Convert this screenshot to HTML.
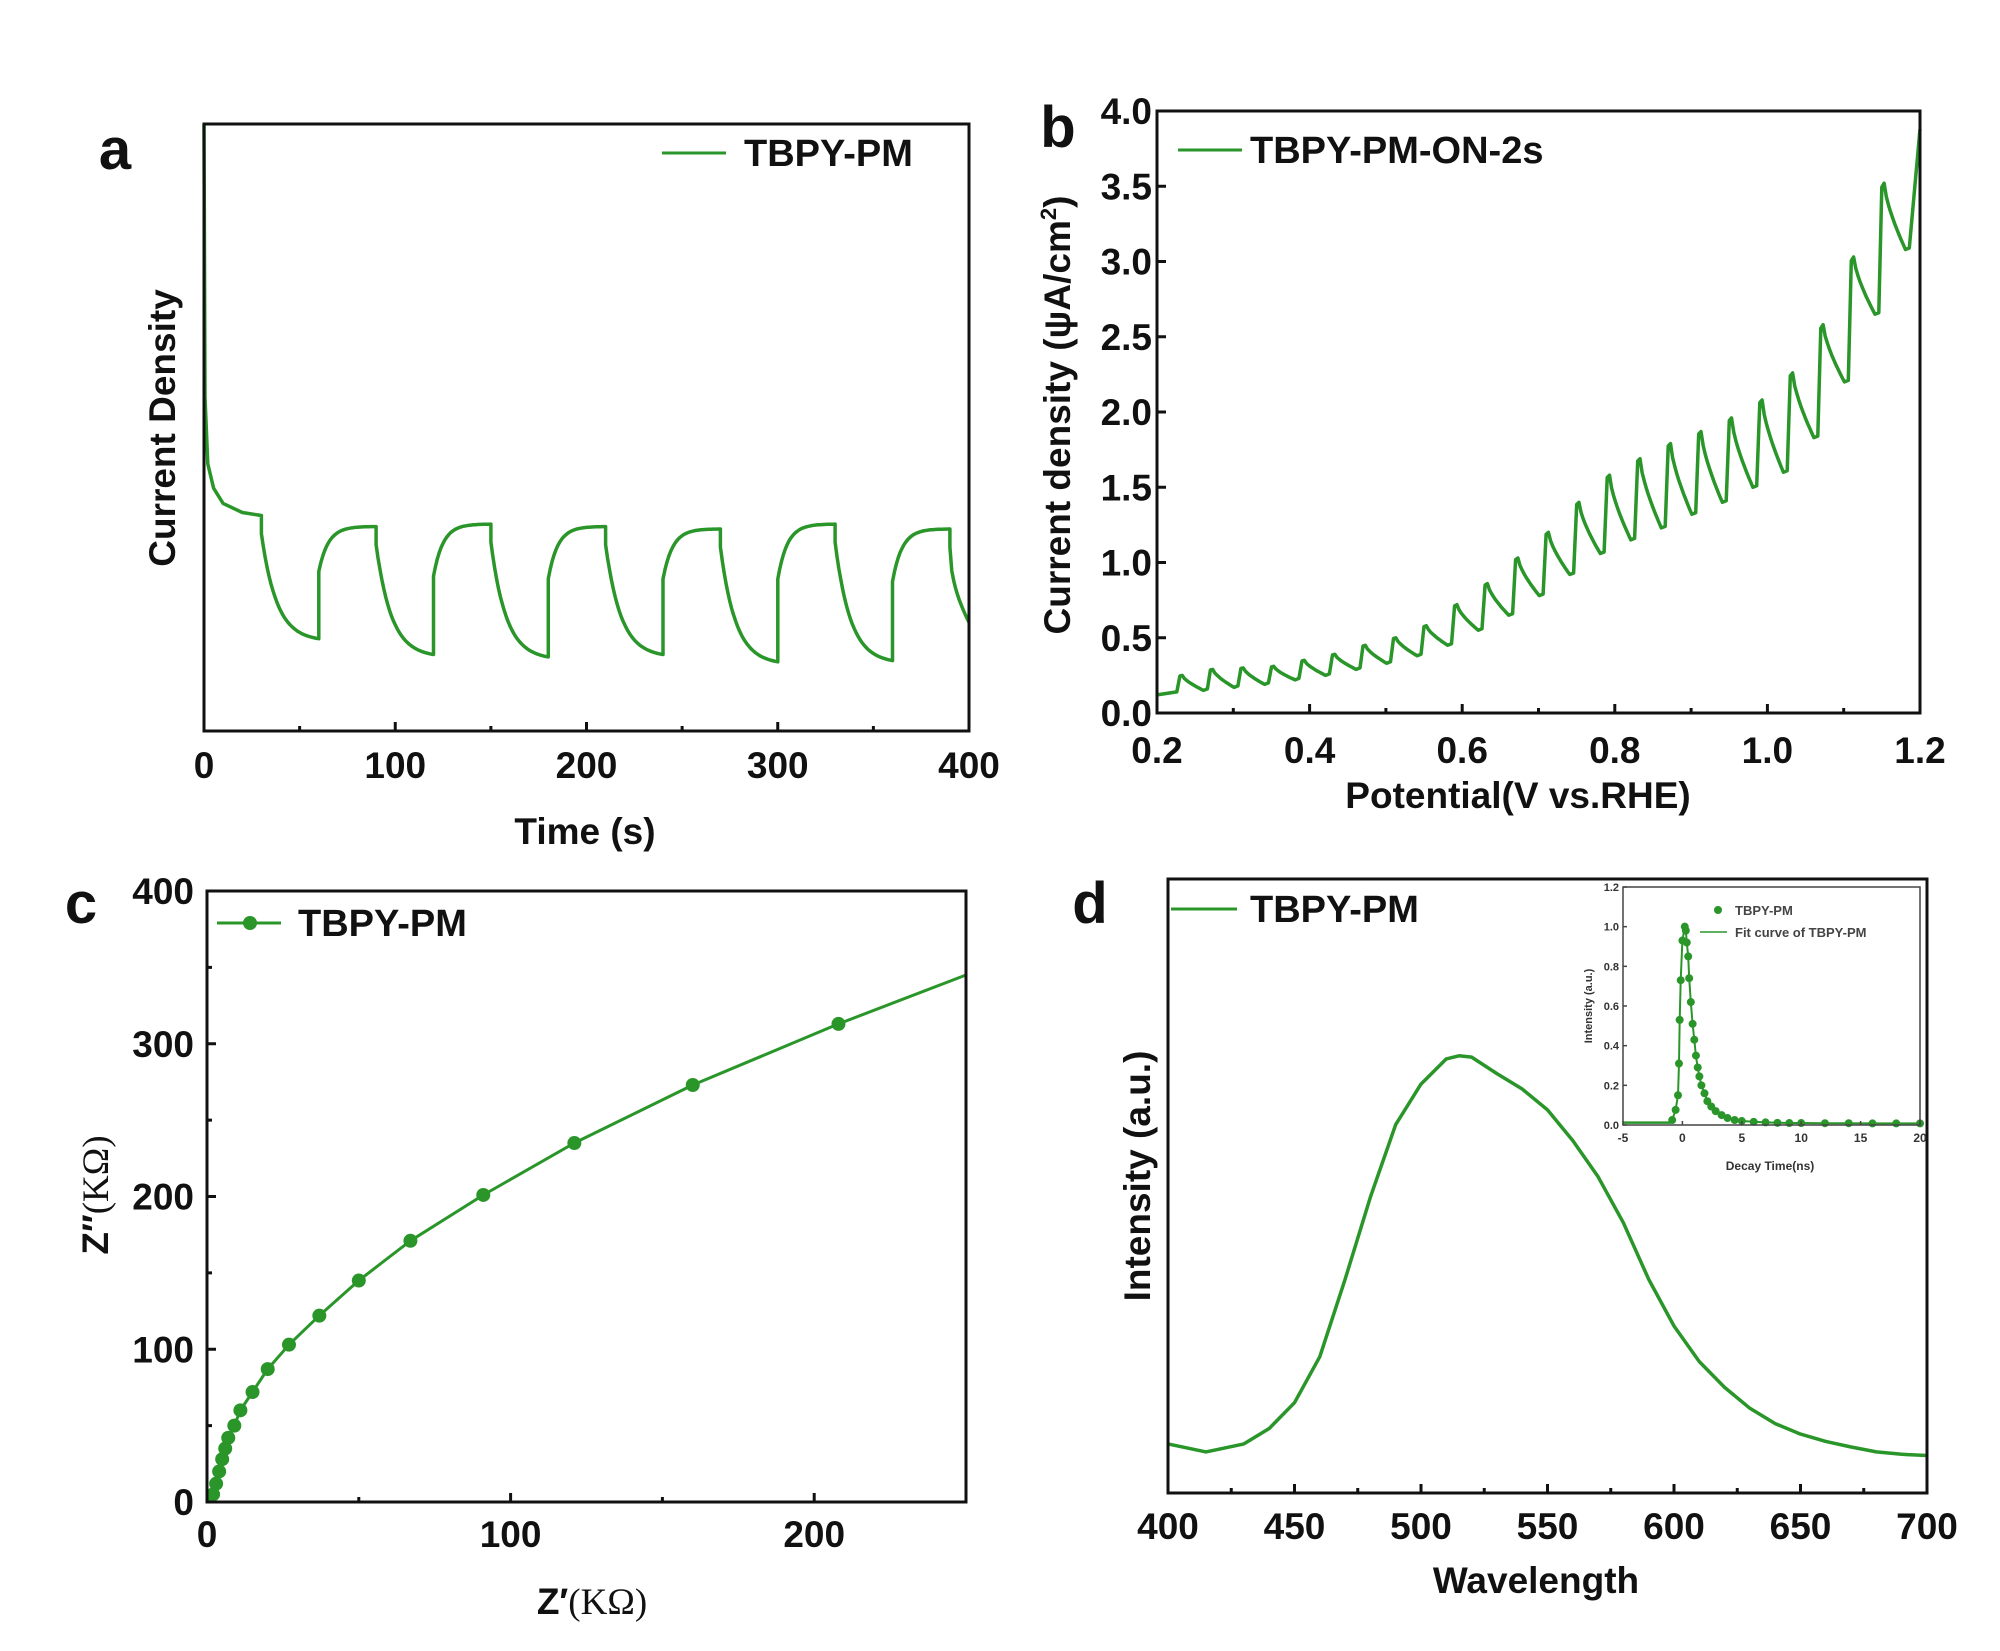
<!DOCTYPE html>
<html><head><meta charset="utf-8"><style>
html,body{margin:0;padding:0;background:#fff;}
svg{display:block;font-family:"Liberation Sans",sans-serif;}
</style></head><body>
<svg id="fig" width="2000" height="1651" viewBox="0 0 2000 1651" xmlns="http://www.w3.org/2000/svg"></svg>
<script>
// ---------- Panel a data ----------
const aInitT = [0, 0.5, 2, 5, 10, 20, 30];
const aInitV = [1.0, 0.55, 0.44, 0.40, 0.375, 0.36, 0.355];
const aOffT = [30, 90, 150, 210, 270, 330, 390];
const aTrough = [0.152, 0.126, 0.122, 0.126, 0.114, 0.116];
const aPeak = [0.337, 0.341, 0.337, 0.333, 0.341, 0.333];
const aEndV = 0.179;
const aXTicks = [0, 100, 200, 300, 400];
// ---------- Panel b data ----------
const bRiseX = [0.226,0.266,0.306,0.346,0.386,0.426,0.466,0.506,0.546,0.586,0.626,0.666,0.706,0.746,0.786,0.826,0.866,0.906,0.946,0.986,1.026,1.066,1.106,1.146,1.186];
const bPeak = [0.25,0.29,0.30,0.31,0.35,0.39,0.45,0.50,0.58,0.72,0.86,1.03,1.20,1.40,1.58,1.69,1.79,1.87,1.96,2.08,2.26,2.58,3.03,3.52,3.88];
const bTrough = [0.12,0.15,0.17,0.19,0.22,0.25,0.29,0.33,0.38,0.45,0.55,0.65,0.78,0.92,1.06,1.15,1.23,1.32,1.40,1.50,1.60,1.83,2.20,2.65,3.08];
const bXTicks = ["0.2","0.4","0.6","0.8","1.0","1.2"];
const bYTicks = ["0.0","0.5","1.0","1.5","2.0","2.5","3.0","3.5","4.0"];
// ---------- Panel c data ----------
const cX = [2,3,4,5,6,7,9,11,15,20,27,37,50,67,91,121,160,208];
const cY = [5,12,20,28,35,42,50,60,72,87,103,122,145,171,201,235,273,313];
const cEndX = 250, cEndY = 345;
const cXTicks = [0, 100, 200];
const cYTicks = [0, 100, 200, 300, 400];
// ---------- Panel d data ----------
const dWave = [400,415,430,440,450,460,470,480,490,500,510,515,520,530,540,550,560,570,580,590,600,610,620,630,640,650,660,670,680,690,700];
const dInt = [0.08,0.067,0.08,0.105,0.147,0.222,0.348,0.482,0.60,0.666,0.707,0.712,0.71,0.683,0.658,0.624,0.574,0.515,0.44,0.348,0.272,0.214,0.172,0.138,0.113,0.096,0.084,0.075,0.067,0.063,0.061];
const dXTicks = [400,450,500,550,600,650,700];
// ---------- Inset data ----------
const iT = [-0.86,-0.57,-0.37,-0.29,-0.23,-0.14,0,0.2,0.29,0.37,0.49,0.57,0.71,0.86,1.0,1.14,1.29,1.43,1.6,1.86,2.1,2.43,2.8,3.3,3.8,4.4,5,6,7,8,9,10,12,14,16,18,20];
const iV = [0.025,0.076,0.15,0.31,0.53,0.73,0.93,1.0,0.98,0.92,0.85,0.74,0.62,0.51,0.43,0.35,0.29,0.245,0.2,0.16,0.12,0.093,0.07,0.05,0.035,0.025,0.02,0.016,0.013,0.011,0.01,0.01,0.009,0.009,0.008,0.008,0.008];
const iXTicks = [-5,0,5,10,15,20];
const iYTicks = ["0.0","0.2","0.4","0.6","0.8","1.0","1.2"];

const NS = "http://www.w3.org/2000/svg";
const svg = document.getElementById('fig');
const G = "#2a962a";
function el(tag, attrs, parent, text){
  const e = document.createElementNS(NS, tag);
  for (const k in attrs) e.setAttribute(k, attrs[k]);
  if (text !== undefined) e.textContent = text;
  (parent || svg).appendChild(e);
  return e;
}
function txt(x,y,s,size,anchor,parent,extra){
  const a = Object.assign({x:x,y:y,'font-size':size,'font-weight':'bold','text-anchor':anchor||'middle',fill:'#111'}, extra||{});
  return el('text', a, parent, s);
}

// ===== Panel a =====
(function(){
  const L=204,T=124,R=969,B=731;
  const g = el('g',{});
  
  
  const X = t => L + (t/400)*(R-L);
  const Y = v => B - v*(B-T);
  const pts = [];
  for (let i=0;i<aInitT.length;i++) pts.push([X(aInitT[i]),Y(aInitV[i])]);
  let prevPeak = aInitV[aInitV.length-1];
  for (let c=0;c<aTrough.length;c++){
    const t0 = aOffT[c];
    const tr = aTrough[c];
    const p1 = prevPeak - 0.03;
    for (let k=0;k<=30;k++){
      const f = (1-Math.exp(-k/8))/(1-Math.exp(-30/8));
      pts.push([X(t0+k), Y(p1 - (p1-tr)*f)]);
    }
    const pk = aPeak[c];
    const j = tr + 0.6*(pk-tr);
    for (let k=0;k<=30;k++){
      const v = pk - (pk-j)*Math.exp(-k/5);
      pts.push([X(t0+30+k), Y(k===0? j : v)]);
    }
    prevPeak = pk;
  }
  const p1 = prevPeak - 0.03;
  for (let k=0;k<=10;k++){
    const f = k/10;
    pts.push([X(390+k), Y(p1 - (p1-aEndV)*Math.sqrt(f))]);
  }
  const line = el('path',{d:'M'+pts.map(p=>p[0].toFixed(1)+','+p[1].toFixed(1)).join('L'),fill:'none',stroke:G,'stroke-width':3.5,'stroke-linejoin':'round'},g);
  
  
  const fr = el('rect',{x:L,y:T,width:R-L,height:B-T,fill:'none',stroke:'#111','stroke-width':3},g);
  
  
  for (let t=0;t<=400;t+=50){
    el('line',{x1:X(t),y1:B,x2:X(t),y2:B-(t%100===0?9:5),stroke:'#111','stroke-width':3},g);
  }
  aXTicks.forEach(t=>{
    const e = txt(X(t), 778, String(t), 37, 'middle', g);
    
    
  });
  const xt = txt(585, 844, 'Time (s)', 37, 'middle', g);
  
  
  const yt = txt(0,0,'Current Density',37,'middle',g,{transform:'translate(175,428) rotate(-90)'});
  
  
  const lb = txt(115,169,'a',58,'middle',g);
  
  
  el('line',{x1:662,y1:153,x2:726,y2:153,stroke:G,'stroke-width':3},g);
  const lt = txt(744,166,'TBPY-PM',38,'start',g);
  
  
})();

// ===== Panel b =====
(function(){
  const L=1157,T=111,R=1920,B=713;
  const g = el('g',{});
  
  
  const X = v => L + ((v-0.2)/1.0)*(R-L);
  const Y = v => B - (v/4)*(B-T);
  let d = 'M'+X(0.2).toFixed(1)+','+Y(bTrough[0]).toFixed(1)+' L'+X(bRiseX[0]).toFixed(1)+','+Y(bTrough[0]+0.02).toFixed(1);
  for (let i=0;i<bRiseX.length;i++){
    const xr = bRiseX[i];
    if (i < bRiseX.length-1){
      d += ' L'+X(xr+0.004).toFixed(1)+','+Y(bPeak[i]-0.03*(bPeak[i]-bTrough[i])).toFixed(1);
      d += ' L'+X(xr+0.007).toFixed(1)+','+Y(bPeak[i]).toFixed(1);
      const nt = bTrough[i+1];
      const xe = bRiseX[i+1];
      for (let k=1;k<=10;k++){
        const f = k/10;
        const x = xr+0.007 + f*(xe-0.005-xr-0.007);
        const v = bPeak[i] - (bPeak[i]-nt)*Math.pow(f,0.7);
        d += ' L'+X(x).toFixed(1)+','+Y(v).toFixed(1);
      }
      d += ' L'+X(xe).toFixed(1)+','+Y(nt+0.01).toFixed(1);
    } else {
      d += ' L'+X(1.2).toFixed(1)+','+Y(bPeak[i]).toFixed(1);
    }
  }
  const line = el('path',{d:d,fill:'none',stroke:G,'stroke-width':3.5,'stroke-linejoin':'round'},g);
  
  
  const fr = el('rect',{x:L,y:T,width:R-L,height:B-T,fill:'none',stroke:'#111','stroke-width':3},g);
  
  
  for (let k=0;k<=10;k++){
    const x = X(0.2+k*0.1);
    el('line',{x1:x,y1:B,x2:x,y2:B-(k%2===0?9:5),stroke:'#111','stroke-width':3},g);
  }
  bXTicks.forEach(s=>{
    const e = txt(X(parseFloat(s)), 763, s, 37, 'middle', g);
    
    
  });
  bYTicks.forEach(s=>{
    const y = Y(parseFloat(s));
    el('line',{x1:L,y1:y,x2:L+9,y2:y,stroke:'#111','stroke-width':3},g);
    const e = txt(1152, y+13, s, 37, 'end', g);
    
    
  });
  const xt = txt(1518, 808, 'Potential(V vs.RHE)', 37, 'middle', g);
  
  
  const yt = el('text',{transform:'translate(1070,415) rotate(-90)','font-size':37,'font-weight':'bold','text-anchor':'middle',fill:'#111'},g);
  
  
  el('tspan',{},yt,'Current density (ψA/cm');
  el('tspan',{'font-size':22,dy:-14},yt,'2');
  el('tspan',{dy:14},yt,')');
  const lb = txt(1058,147,'b',58,'middle',g);
  
  
  el('line',{x1:1178,y1:150,x2:1242,y2:150,stroke:G,'stroke-width':3},g);
  const lt = txt(1250,163,'TBPY-PM-ON-2s',38,'start',g);
  
  
})();

// ===== Panel c =====
(function(){
  const L=207,T=891,R=966,B=1502;
  const g = el('g',{});
  
  
  const X = v => L + (v/250)*(R-L);
  const Y = v => B - (v/400)*(B-T);
  const pts = [[0,0]];
  for (let i=0;i<cX.length;i++) pts.push([cX[i],cY[i]]);
  pts.push([cEndX,cEndY]);
  const line = el('path',{d:'M'+pts.map(p=>X(p[0]).toFixed(1)+','+Y(p[1]).toFixed(1)).join('L'),fill:'none',stroke:G,'stroke-width':3,'stroke-linejoin':'round'},g);
  
  
  for (let i=0;i<cX.length;i++){
    const m = el('circle',{cx:X(cX[i]),cy:Y(cY[i]),r:7,fill:G},g);
    
    
  }
  const fr = el('rect',{x:L,y:T,width:R-L,height:B-T,fill:'none',stroke:'#111','stroke-width':3},g);
  
  
  for (let v=0;v<=250;v+=50){
    el('line',{x1:X(v),y1:B,x2:X(v),y2:B-(v%100===0?9:5),stroke:'#111','stroke-width':3},g);
  }
  for (let v=0;v<=400;v+=50){
    el('line',{x1:L,y1:Y(v),x2:L+(v%100===0?9:5),y2:Y(v),stroke:'#111','stroke-width':3},g);
  }
  cXTicks.forEach(t=>{
    const e = txt(X(t), 1547, String(t), 37, 'middle', g);
    
    
  });
  cYTicks.forEach(t=>{
    const e = txt(194, Y(t)+13, String(t), 37, 'end', g);
    
    
  });
  const xt = el('text',{x:592,y:1614,'font-size':37,'text-anchor':'middle',fill:'#111'},g);
  
  
  el('tspan',{'font-weight':'bold'},xt,'Z′');
  el('tspan',{'font-family':'Liberation Serif, serif'},xt,'(KΩ)');
  const yt = el('text',{transform:'translate(108,1195) rotate(-90)','font-size':37,'text-anchor':'middle',fill:'#111'},g);
  
  
  el('tspan',{'font-weight':'bold'},yt,'Z″');
  el('tspan',{'font-family':'Liberation Serif, serif'},yt,'(KΩ)');
  const lb = txt(81,923,'c',58,'middle',g);
  
  
  el('line',{x1:217,y1:923,x2:281,y2:923,stroke:G,'stroke-width':3},g);
  el('circle',{cx:250,cy:923,r:7,fill:G},g);
  const lt = txt(298,936,'TBPY-PM',38,'start',g);
  
  
})();

// ===== Panel d =====
(function(){
  const L=1168,T=879,R=1927,B=1493;
  const g = el('g',{});
  
  
  const X = w => L + ((w-400)/300)*(R-L);
  const Y = v => B - v*(B-T);
  let d='';
  for (let i=0;i<dWave.length;i++){
    d += (i?'L':'M') + X(dWave[i]).toFixed(1)+','+Y(dInt[i]).toFixed(1);
  }
  const line = el('path',{d:d,fill:'none',stroke:G,'stroke-width':3.5,'stroke-linejoin':'round'},g);
  
  
  const fr = el('rect',{x:L,y:T,width:R-L,height:B-T,fill:'none',stroke:'#111','stroke-width':3},g);
  
  
  for (let w=400;w<=700;w+=25){
    el('line',{x1:X(w),y1:B,x2:X(w),y2:B-((w%50===0)?9:5),stroke:'#111','stroke-width':3},g);
  }
  dXTicks.forEach(t=>{
    const e = txt(X(t), 1539, String(t), 37, 'middle', g);
    
    
  });
  const xt = txt(1536, 1593, 'Wavelength', 37, 'middle', g);
  
  
  const yt = txt(0,0,'Intensity (a.u.)',37,'middle',g,{transform:'translate(1150,1176) rotate(-90)'});
  
  
  const lb = txt(1090,923,'d',58,'middle',g);
  
  
  el('line',{x1:1171,y1:909,x2:1237,y2:909,stroke:G,'stroke-width':3},g);
  const lt = txt(1250,922,'TBPY-PM',38,'start',g);
  
  

  // ---- inset ----
  const IL=1623,IT=887,IR=1920,IB=1125;
  const ig = el('g',{},g);
  
  
  const IX = t => IL + ((t+5)/25)*(IR-IL);
  const IY = v => IB - (v/1.2)*(IB-IT);
  el('line',{x1:IX(-5),y1:IY(0.012),x2:IX(-1),y2:IY(0.012),stroke:G,'stroke-width':2.5},ig);
  let fd='';
  for (let i=0;i<iT.length;i++) fd += (i?'L':'M')+IX(iT[i]).toFixed(1)+','+IY(iV[i]).toFixed(1);
  const fit = el('path',{d:fd,fill:'none',stroke:G,'stroke-width':2},ig);
  
  
  for (let i=0;i<iT.length;i++){
    const c = el('circle',{cx:IX(iT[i]),cy:IY(iV[i]),r:4,fill:G},ig);
    
    
  }
  const ifr = el('rect',{x:IL,y:IT,width:IR-IL,height:IB-IT,fill:'none',stroke:'#444','stroke-width':1.5},ig);
  
  
  iXTicks.forEach(t=>{
    el('line',{x1:IX(t),y1:IB,x2:IX(t),y2:IB-4,stroke:'#444','stroke-width':1.5},ig);
    const e = txt(IX(t), IB+17, String(t), 12, 'middle', ig, {fill:'#333'});
    
    
  });
  iYTicks.forEach(s=>{
    const y = IY(parseFloat(s));
    el('line',{x1:IL,y1:y,x2:IL+4,y2:y,stroke:'#444','stroke-width':1.5},ig);
    const e = txt(IL-4, y+4, s, 11, 'end', ig, {fill:'#333'});
    
    
  });
  const ixt = txt(1770, 1170, 'Decay Time(ns)', 12, 'middle', ig, {fill:'#333'});
  
  
  const iyt = txt(0,0,'Intensity (a.u.)',11,'middle',ig,{fill:'#333',transform:'translate(1592,1006) rotate(-90)'});
  
  
  el('circle',{cx:1718,cy:910,r:4,fill:G},ig);
  const l1 = txt(1735,915,'TBPY-PM',13,'start',ig,{fill:'#444'});
  
  
  el('line',{x1:1700,y1:932,x2:1727,y2:932,stroke:G,'stroke-width':1.5},ig);
  const l2 = txt(1735,937,'Fit curve of TBPY-PM',13,'start',ig,{fill:'#444'});
  
  
})();
</script>
</body></html>
